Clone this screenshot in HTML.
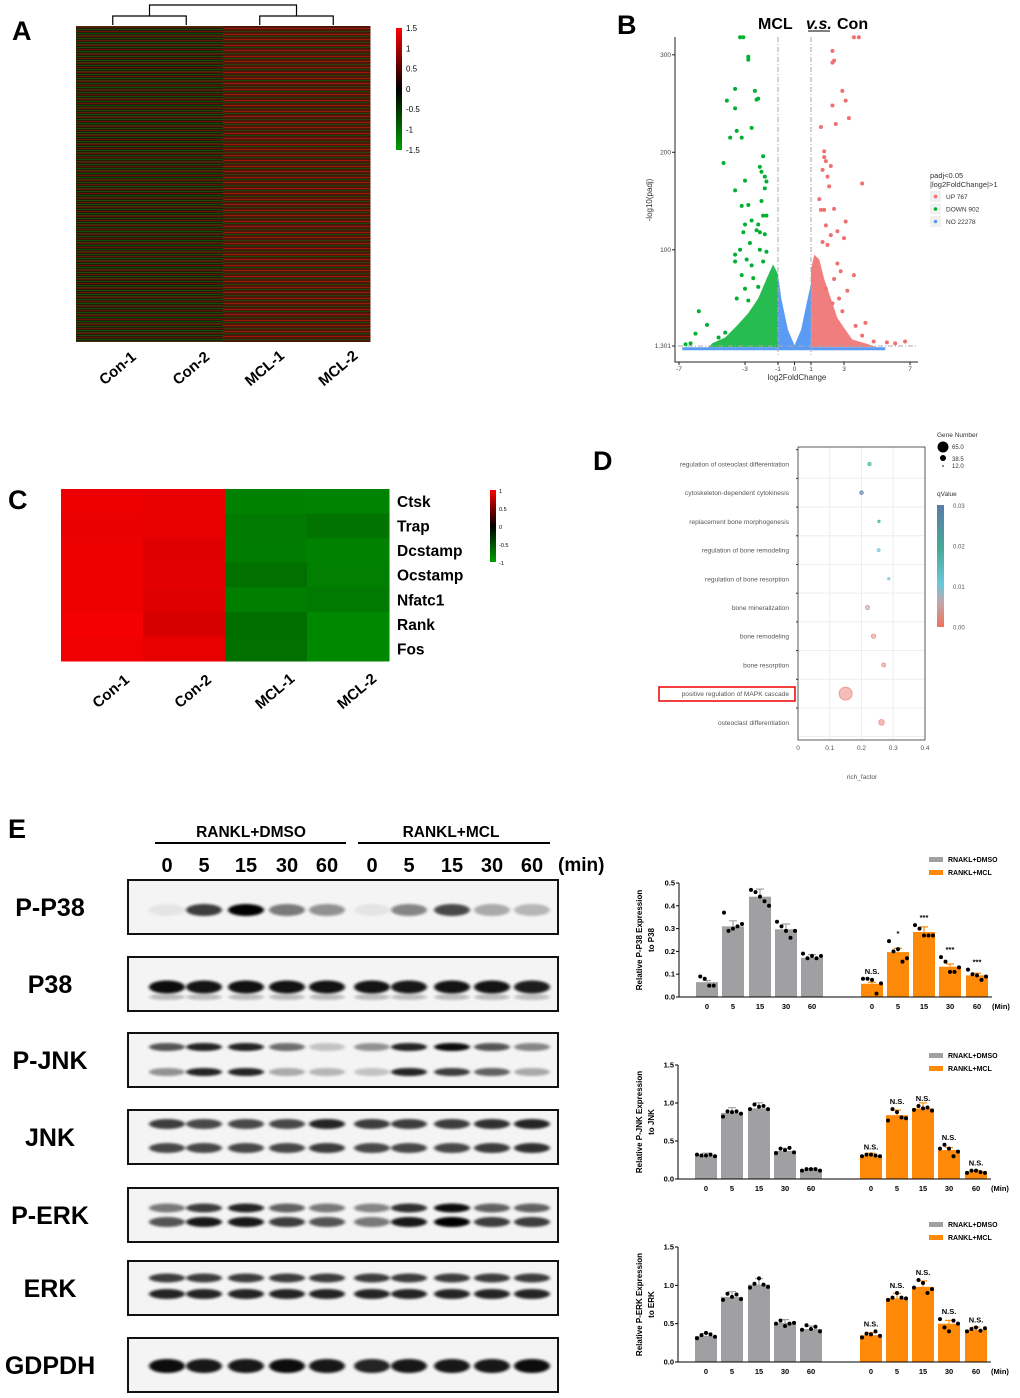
<!DOCTYPE html>
<html><head><meta charset="utf-8">
<style>
html,body{margin:0;padding:0;background:#fff;}
svg{display:block;font-family:"Liberation Sans",Arial,sans-serif;}
</style></head>
<body>
<svg id="fig" width="1020" height="1398" viewBox="0 0 1020 1398" xmlns="http://www.w3.org/2000/svg">
<defs>
<linearGradient id="gA" x1="0" y1="0" x2="0" y2="1"><stop offset="0" stop-color="#ff0000"/><stop offset="0.5" stop-color="#000"/><stop offset="1" stop-color="#00a000"/></linearGradient>
<linearGradient id="gQ" x1="0" y1="0" x2="0" y2="1"><stop offset="0" stop-color="#5b7aa8"/><stop offset="0.35" stop-color="#45a898"/><stop offset="0.65" stop-color="#6cc7d8"/><stop offset="0.8" stop-color="#c0a8a8"/><stop offset="1" stop-color="#f07060"/></linearGradient>
<filter id="blur" x="-20%" y="-100%" width="140%" height="300%"><feGaussianBlur stdDeviation="1.6 1.4"/></filter>
<pattern id="stripeA" width="8" height="9" patternUnits="userSpaceOnUse">
<rect width="8" height="9" fill="#2a200a"/><rect y="0" width="8" height="1" fill="#6a1a08"/><rect y="2" width="8" height="1" fill="#1a5a10"/><rect y="4" width="8" height="1" fill="#801808"/><rect y="6" width="8" height="1" fill="#106010"/><rect y="8" width="8" height="1" fill="#4a3a0a"/>
</pattern>
<pattern id="stripeB" width="8" height="11" patternUnits="userSpaceOnUse">
<rect width="8" height="11" fill="#4a1808"/><rect y="1" width="8" height="1" fill="#9a1808"/><rect y="3" width="8" height="1" fill="#1a4a0a"/><rect y="6" width="8" height="1" fill="#a01808"/><rect y="9" width="8" height="1" fill="#2a400a"/>
</pattern>
</defs>
<g id="root"></g>
</svg>
<script>
// ---------- DATA ----------
const heatALabels = ["Con-1","Con-2","MCL-1","MCL-2"];
const heatATicks = ["1.5","1","0.5","0","-0.5","-1","-1.5"];
const volcanoGreen = [[-3.1,318],[-3.3,318],[-2.8,298],[-2.8,295],[-3.6,265],[-2.4,263],[-4.1,253],[-2.3,254],[-2.2,255],[-3.6,245],[-2.6,225],[-3.5,222],[-3.9,215],[-3.2,215],[-4.3,189],[-1.9,196],[-2.1,185],[-2.0,180],[-3.0,171],[-1.8,175],[-1.7,170],[-3.6,161],[-1.8,163],[-2.8,146],[-3.2,145],[-2.0,150],[-1.9,135],[-2.6,130],[-2.2,126],[-3.0,126],[-1.7,135],[-2.3,120],[-3.1,118],[-2.1,118],[-1.8,116],[-2.7,107],[-3.3,100],[-3.6,95],[-2.1,100],[-1.7,98],[-2.9,90],[-3.6,88],[-2.6,84],[-1.9,88],[-3.2,74],[-2.5,71],[-3.0,60],[-2.2,62],[-3.5,50],[-2.8,48],[-5.8,37],[-5.3,23],[-6.0,14],[-4.2,15],[-4.6,10],[-6.3,4],[-6.6,3]];
const volcanoRed = [[3.6,318],[3.9,318],[2.3,304],[2.4,294],[2.3,292],[2.9,263],[3.1,253],[2.3,248],[3.3,235],[2.5,229],[1.6,226],[1.8,201],[1.9,191],[1.8,195],[2.2,186],[1.7,182],[2.0,175],[2.1,165],[4.1,168],[2.4,142],[1.5,152],[1.8,141],[1.6,141],[3.1,129],[2.6,119],[1.9,125],[2.2,115],[3.0,112],[2.0,105],[1.7,108],[2.6,86],[3.6,74],[2.8,78],[2.4,70],[3.2,58],[2.9,37],[3.7,22],[4.3,25],[4.1,12],[4.8,6],[5.6,5],[6.1,4],[6.7,6],[2.7,50],[1.9,60],[2.3,45]];
const volcanoBlueOutline = [[-6.8,0],[-1.0,0],[-1.0,75],[-0.8,50],[-0.4,18],[0,2],[0.4,18],[0.8,50],[1.0,66],[1.0,0],[5.5,0],[5.5,-3],[-6.8,-3]];
const volcanoGreenDense = [[-1.0,0],[-1.0,75],[-1.3,85],[-1.7,70],[-2.2,50],[-2.8,35],[-3.5,22],[-4.2,10],[-5.0,4],[-5.2,0]];
const volcanoRedDense = [[1.0,0],[1.0,80],[1.2,95],[1.5,90],[1.8,70],[2.2,50],[2.6,30],[3.0,20],[3.5,8],[4.5,3],[5.0,0]];
const xTicksB = [-7,-3,-1,0,1,3,7];
const yTicksB = [1.301,100,200,300];
const heatCGenes = ["Ctsk","Trap","Dcstamp","Ocstamp","Nfatc1","Rank","Fos"];
const heatCValues = [
 [0.95,0.92,-0.88,-0.90],
 [0.93,0.90,-0.80,-0.72],
 [0.94,0.86,-0.82,-0.88],
 [0.96,0.88,-0.70,-0.86],
 [0.95,0.86,-0.84,-0.80],
 [1.00,0.80,-0.68,-0.95],
 [0.97,0.90,-0.70,-0.96]];
const goTerms = ["regulation of osteoclast differentiation","cytoskeleton-dependent cytokinesis","replacement bone morphogenesis","regulation of bone remodeling","regulation of bone resorption","bone mineralization","bone remodeling","bone resorption","positive regulation of MAPK cascade","osteoclast differentiation"];
const goRich = [0.225,0.2,0.255,0.254,0.286,0.219,0.238,0.27,0.15,0.263];
const goQ = [0.014,0.027,0.013,0.011,0.010,0.004,0.002,0.001,0.001,0.001];
const goCount = [16,18,12,15,12,22,22,20,65,28];
const goXTicks = ["0","0.1","0.2","0.3","0.4"];
const lanes = ["0","5","15","30","60","0","5","15","30","60"];
const blotPP38 = [0.06,0.75,1.0,0.5,0.4,0.06,0.45,0.7,0.3,0.25];
const blotP38 = [0.95,0.92,0.93,0.92,0.92,0.92,0.9,0.92,0.92,0.88];
const blotPJNKup = [0.65,0.85,0.85,0.55,0.2,0.4,0.85,0.95,0.65,0.45];
const blotPJNKlo = [0.4,0.85,0.85,0.3,0.25,0.2,0.85,0.75,0.6,0.3];
const blotJNKup = [0.75,0.7,0.7,0.7,0.85,0.75,0.75,0.75,0.8,0.85];
const blotJNKlo = [0.7,0.7,0.7,0.7,0.75,0.7,0.7,0.7,0.75,0.8];
const blotPERKup = [0.5,0.75,0.85,0.6,0.5,0.45,0.8,0.95,0.6,0.6];
const blotPERKlo = [0.65,0.9,0.9,0.75,0.65,0.5,0.9,1.0,0.75,0.75];
const blotERKup = [0.75,0.75,0.75,0.75,0.75,0.75,0.75,0.75,0.75,0.75];
const blotERKlo = [0.85,0.85,0.85,0.85,0.85,0.85,0.85,0.85,0.85,0.85];
const blotGAPDH = [0.95,0.9,0.9,0.95,0.9,0.85,0.9,0.9,0.9,0.95];
const barTimes = ["0","5","15","30","60"];
const p38Dmso = [0.065,0.31,0.44,0.297,0.172];
const p38Mcl = [0.058,0.197,0.285,0.133,0.095];
const p38DmsoPts = [[0.09,0.08,0.05,0.05],[0.37,0.29,0.3,0.31,0.32],[0.47,0.46,0.44,0.42,0.40],[0.33,0.31,0.29,0.26,0.29],[0.19,0.17,0.18,0.17,0.18]];
const p38MclPts = [[0.08,0.08,0.075,0.015,0.06],[0.245,0.2,0.21,0.155,0.17],[0.315,0.3,0.27,0.27,0.27],[0.175,0.155,0.11,0.11,0.13],[0.12,0.1,0.095,0.075,0.09]];
const p38Sig = ["N.S.","*","***","***","***"];
const jnkDmso = [0.31,0.87,0.93,0.37,0.12];
const jnkMcl = [0.31,0.84,0.93,0.38,0.10];
const jnkDmsoPts = [[0.32,0.31,0.31,0.32,0.3],[0.82,0.89,0.88,0.89,0.86],[0.92,0.98,0.95,0.96,0.92],[0.34,0.4,0.38,0.41,0.35],[0.11,0.13,0.13,0.13,0.11]];
const jnkMclPts = [[0.3,0.32,0.32,0.31,0.3],[0.77,0.92,0.88,0.81,0.8],[0.91,0.96,0.93,0.94,0.9],[0.4,0.45,0.4,0.3,0.36],[0.08,0.11,0.11,0.09,0.08]];
const jnkSig = ["N.S.","N.S.","N.S.","N.S.","N.S."];
const erkDmso = [0.34,0.85,1.01,0.51,0.43];
const erkMcl = [0.35,0.83,0.98,0.50,0.42];
const erkDmsoPts = [[0.31,0.35,0.38,0.36,0.33],[0.81,0.89,0.85,0.88,0.82],[0.97,1.02,1.09,1.01,0.98],[0.5,0.54,0.47,0.5,0.51],[0.42,0.48,0.43,0.46,0.4]];
const erkMclPts = [[0.32,0.37,0.36,0.4,0.34],[0.81,0.84,0.9,0.84,0.83],[0.97,1.07,1.03,0.9,0.95],[0.56,0.45,0.4,0.54,0.5],[0.4,0.43,0.45,0.41,0.44]];
const erkSig = ["N.S.","N.S.","N.S.","N.S.","N.S."];
const bar1Ticks = [0,0.1,0.2,0.3,0.4,0.5];
const bar2Ticks = [0,0.5,1.0,1.5];

// ---------- helpers ----------
const NS="http://www.w3.org/2000/svg";
const root=document.getElementById('root');
function mk(tag,attrs,parent,text){const e=document.createElementNS(NS,tag);for(const k in attrs)e.setAttribute(k,attrs[k]);if(text!==undefined)e.textContent=text;(parent||root).appendChild(e);return e;}
function grp(name,parent){const g=mk('g',{},parent);return g;}
function txt(p,x,y,s,size,opt){opt=opt||{};const t=mk('text',Object.assign({x:x,y:y,'font-size':size,fill:opt.fill||'#000','text-anchor':opt.anchor||'start'},opt.weight?{'font-weight':opt.weight}:{},opt.transform?{transform:opt.transform}:{},opt.style?{style:opt.style}:{}),p,s);return t;}

// ---------- panel letters ----------
const letters=grp('panel-letters');
[["A",12,40],["B",617,34],["C",8,509],["D",593,470],["E",8,838]].forEach(l=>{const t=txt(letters,l[1],l[2],l[0],27,{weight:'bold'});});

// ---------- Panel A ----------
(function(){
 const g=grp('heatmap-a');
 const x0=76,y0=26,w=294,h=316,cw=w/4;
 const fills=['url(#stripeA)','url(#stripeA)','url(#stripeB)','url(#stripeB)'];
 for(let i=0;i<4;i++){const r=mk('rect',{x:x0+i*cw,y:y0,width:cw+0.5,height:h,fill:fills[i]},g);}
 mk('rect',{x:x0,y:y0,width:cw*2,height:h,fill:'#000','opacity':0.15},g);
 const d=grp('dendrogram-a',g);
 const c=i=>x0+cw*(i+0.5);
 mk('path',{d:`M${c(0)} 25V16H${c(1)}V25 M${c(2)} 25V16H${c(3)}V25 M${(c(0)+c(1))/2} 16V5H${(c(2)+c(3))/2}V16`,stroke:'#000','stroke-width':1.2,fill:'none'},d);
 const cb=grp('colorbar-a',g);
 mk('rect',{x:396,y:28,width:6,height:122,fill:'url(#gA)'},cb);
 heatATicks.forEach((t,i)=>{const e=txt(cb,406,31+i*20.3,t,8);});
 heatALabels.forEach((s,i)=>{const x=c(i)+8,y=372;const e=txt(g,x,y,s,15,{weight:'bold',anchor:'middle',transform:`rotate(-40 ${x} ${y})`});});
})();

// ---------- Panel B volcano ----------
(function(){
 const g=grp('volcano-plot');
 const X=v=>794.5+16.5*v, Y=v=>347.3-v*0.975;
 txt(g,758,29,'MCL',16,{weight:'bold'});
 txt(g,806,29,'v.s.',16,{weight:'bold',style:'font-style:italic'});
 txt(g,837,29,'Con',16,{weight:'bold'});
 mk('line',{x1:808,y1:31,x2:830,y2:31,stroke:'#000','stroke-width':1},g);
 const pts=a=>a.map(p=>X(p[0])+','+Y(p[1])).join(' ');
 mk('polygon',{points:pts(volcanoGreenDense),fill:'#00b030',opacity:0.85},g);
 mk('polygon',{points:pts(volcanoRedDense),fill:'#f07070',opacity:0.9},g);
 mk('polygon',{points:pts(volcanoBlueOutline),fill:'#5a9cf5'},g);
 volcanoGreen.forEach(p=>{const c=mk('circle',{cx:X(p[0]),cy:Y(p[1]),r:2,fill:'#00b030'},g);});
 volcanoRed.forEach(p=>{const c=mk('circle',{cx:X(p[0]),cy:Y(p[1]),r:2,fill:'#f07070'},g);});
 mk('line',{x1:X(-1),y1:37,x2:X(-1),y2:357,stroke:'#aaa','stroke-dasharray':'5 2 1 2'},g);
 mk('line',{x1:X(1),y1:37,x2:X(1),y2:357,stroke:'#aaa','stroke-dasharray':'5 2 1 2'},g);
 mk('line',{x1:678,y1:Y(1.301),x2:918,y2:Y(1.301),stroke:'#aaa','stroke-dasharray':'5 2 1 2'},g);
 mk('path',{d:'M675 37V362H918',stroke:'#222',fill:'none','stroke-width':1},g);
 xTicksB.forEach(v=>{mk('line',{x1:X(v),y1:362,x2:X(v),y2:365,stroke:'#222'},g);const t=txt(g,X(v),371,String(v),6.5,{anchor:'middle',fill:'#444'});});
 yTicksB.forEach(v=>{mk('line',{x1:672,y1:Y(v),x2:675,y2:Y(v),stroke:'#222'},g);const t=txt(g,671,Y(v)+2,String(v),6.5,{anchor:'end',fill:'#444'});});
 txt(g,797,380,'log2FoldChange',8,{anchor:'middle',fill:'#333'});
 txt(g,652,200,'-log10(padj)',8,{anchor:'middle',fill:'#333',transform:'rotate(-90 652 200)'});
 const lg=grp('volcano-legend',g);
 txt(lg,930,178,'padj<0.05',7.5,{fill:'#333'});txt(lg,930,187,'|log2FoldChange|>1',7.5,{fill:'#333'});
 [['#f07070','UP 767'],['#00b030','DOWN 902'],['#5a9cf5','NO 22278']].forEach((e,i)=>{mk('rect',{x:930,y:191+i*12.5,width:11,height:11,fill:'#f0f0f0'},lg);mk('circle',{cx:935.5,cy:196.5+i*12.5,r:1.8,fill:e[0]},lg);const t=txt(lg,946,199+i*12.5,e[1],6.5,{fill:'#333'});});
})();

// ---------- Panel C ----------
(function(){
 const g=grp('heatmap-c');
 const x0=61,y0=489,cw=82,rh=172/7;
 function col(v){if(v>=0){const r=Math.round(90+155*v);return `rgb(${r},0,0)`;}const gg=Math.round(50+90*(-v));return `rgb(0,${gg},0)`;}
 heatCValues.forEach((row,i)=>row.forEach((v,j)=>{const r=mk('rect',{x:x0+j*cw,y:y0+i*rh,width:cw+0.5,height:rh+0.5,fill:col(v)},g);}));
 heatCGenes.forEach((s,i)=>{const t=txt(g,397,y0+i*rh+18,s,15.5,{weight:'bold'});});
 const cb=grp('colorbar-c',g);
 mk('rect',{x:490,y:490,width:6,height:72,fill:'url(#gA)'},cb);
 ["1","0.5","0","-0.5","-1"].forEach((t,i)=>txt(cb,499,493+i*18,t,5.5));
 heatALabels.forEach((s,i)=>{const x=x0+cw*(i+0.5)+12,y=695;const e=txt(g,x,y,s,15,{weight:'bold',anchor:'middle',transform:`rotate(-40 ${x} ${y})`});});
})();

// ---------- Panel D ----------
(function(){
 const g=grp('go-bubble-chart');
 const X=v=>798+v*317.5, Y=i=>464+i*28.7;
 [0.1,0.2,0.3].forEach(v=>mk('line',{x1:X(v),y1:447,x2:X(v),y2:740,stroke:'#eee'},g));
 goTerms.forEach((s,i)=>{mk('line',{x1:798,y1:Y(i)+14.3,x2:925,y2:Y(i)+14.3,stroke:'#eee'},g);mk('line',{x1:796,y1:Y(i)-14.3,x2:798,y2:Y(i)-14.3,stroke:'#333'},g);const t=txt(g,789,Y(i)+2.5,s,6.6,{anchor:'end',fill:'#555'});});
 mk('rect',{x:798,y:447,width:127,height:293,fill:'none',stroke:'#333','stroke-width':0.8},g);
 mk('rect',{x:659,y:687,width:136,height:14,fill:'none',stroke:'#e00','stroke-width':1.5},g);
 function qcol(q){const t=q/0.03;if(t<0.1)return '#f09088';if(t<0.2)return '#c8a8a8';if(t<0.4)return '#70c8d8';if(t<0.75)return '#48b0a0';return '#6080b0';}
 goRich.forEach((v,i)=>{const r=Math.max(0.8,goCount[i]/65*6.5);const c=mk('circle',{cx:X(v),cy:Y(i),r:r,fill:qcol(goQ[i]),'fill-opacity':0.6,stroke:qcol(goQ[i]),'stroke-width':0.8},g);});
 goXTicks.forEach((s,i)=>{const t=txt(g,X(i*0.1),750,s,6.5,{anchor:'middle',fill:'#555'});});
 txt(g,862,779,'rich_factor',6.5,{anchor:'middle',fill:'#555'});
 const lg=grp('go-legend',g);
 txt(lg,937,437,'Gene Number',6.5,{fill:'#333'});
 mk('circle',{cx:943,cy:447,r:5.5,fill:'#000'},lg);txt(lg,952,449,'65.0',6,{fill:'#333'});
 mk('circle',{cx:943,cy:458,r:3,fill:'#000'},lg);txt(lg,952,461,'38.5',6,{fill:'#333'});
 mk('circle',{cx:943,cy:466,r:0.8,fill:'#000'},lg);txt(lg,952,468,'12.0',6,{fill:'#333'});
 txt(lg,937,496,'qValue',6.5,{fill:'#333'});
 mk('rect',{x:937,y:505,width:7,height:122,fill:'url(#gQ)'},lg);
 ["0.03","0.02","0.01","0.00"].forEach((s,i)=>txt(lg,953,508+i*40.5,s,6,{fill:'#555'}));
})();

// ---------- Panel E blots ----------
(function(){
 const g=grp('western-blots');
 const laneX=[167,204,246,287,327,372,409,452,492,532];
 txt(g,251,837,'RANKL+DMSO',15.5,{anchor:'middle',weight:'bold'});
 txt(g,451,837,'RANKL+MCL',15.5,{anchor:'middle',weight:'bold'});
 mk('line',{x1:155,y1:843,x2:346,y2:843,stroke:'#000','stroke-width':2},g);
 mk('line',{x1:358,y1:843,x2:550,y2:843,stroke:'#000','stroke-width':2},g);
 lanes.forEach((s,i)=>{const t=txt(g,laneX[i],872,s,20,{anchor:'middle',weight:'bold'});});
 txt(g,558,871,'(min)',19,{weight:'bold'});
 const rows=[
  ['P-P38',880,[[blotPP38,910,6]]],
  ['P38',957,[[blotP38,987,6.5],[blotP38.map(v=>v*0.25),997,3]]],
  ['P-JNK',1033,[[blotPJNKup,1047,4],[blotPJNKlo,1072,4]]],
  ['JNK',1110,[[blotJNKup,1124,5],[blotJNKlo,1148,5]]],
  ['P-ERK',1188,[[blotPERKup,1208,4.5],[blotPERKlo,1222,5]]],
  ['ERK',1261,[[blotERKup,1278,4.5],[blotERKlo,1294,5]]],
  ['GDPDH',1338,[[blotGAPDH,1366,7]]]];
 rows.forEach(r=>{
  const bg=grp('blot-'+r[0].toLowerCase(),g);
  mk('rect',{x:128,y:r[1],width:430,height:54,fill:'#f4f4f4',stroke:'#111','stroke-width':2},bg);
  r[2].forEach(b=>b[0].forEach((v,i)=>{const e=mk('ellipse',{cx:laneX[i],cy:b[1],rx:18,ry:b[2],fill:'#000',opacity:Math.min(1,v),filter:'url(#blur)'},bg);}));
  const t=txt(g,50,r[1]+36,r[0],25,{anchor:'middle',weight:'bold'});
 });
})();

// ---------- Bar charts ----------
function barChart(name,axX,y0,yTop,maxV,ticks,dm,mc,dmPts,mcPts,sig,ylabel1,ylabel2,legY,fmt){
 const g=grp(name);
 const Y=v=>y0-(y0-yTop)*v/maxV;
 const gx=[axX+28,axX+54,axX+81,axX+107,axX+133], ox=[axX+193,axX+219,axX+245,axX+271,axX+298];
 const bw=22;
 function series(vals,pts,xs,color,errc,tag){vals.forEach((v,i)=>{
  const b=mk('rect',{x:xs[i]-bw/2,y:Y(v),width:bw,height:y0-Y(v),fill:color},g);
  mk('path',{d:`M${xs[i]} ${Y(v)}V${Y(v*1.07+maxV*0.005)}M${xs[i]-4} ${Y(v*1.07+maxV*0.005)}H${xs[i]+4}`,stroke:errc,'stroke-width':1.2,fill:'none'},g);
  const p=pts[i];p.forEach((pv,k)=>{const dx=(k-(p.length-1)/2)*4.5;const c=mk('circle',{cx:xs[i]+dx,cy:Y(pv),r:2,fill:'#000'},g);});
 });}
 series(dm,dmPts,gx,'#a0a0a2','#a0a0a2','dmso');
 series(mc,mcPts,ox,'#ff8a0a','#ff8a0a','mcl');
 sig.forEach((s,i)=>{const top=Math.max(...mcPts[i]);const t=txt(g,ox[i],Y(top)-5,s,7.5,{anchor:'middle',weight:'bold'});});
 mk('path',{d:`M${axX} ${yTop}V${y0}H${axX+313}`,stroke:'#000','stroke-width':1,fill:'none'},g);
 ticks.forEach(v=>{mk('line',{x1:axX-3,y1:Y(v),x2:axX,y2:Y(v),stroke:'#000'},g);const t=txt(g,axX-4,Y(v)+2.5,fmt(v),7.5,{anchor:'end',weight:'bold'});});
 [...gx,...ox].forEach((x,i)=>{const t=txt(g,x,y0+12,barTimes[i%5],7.5,{anchor:'middle',weight:'bold'});});
 txt(g,axX+313,y0+12,'(Min)',7.5,{weight:'bold'});
 const my=(y0+yTop)/2;
 txt(g,642,my,ylabel1,8,{anchor:'middle',weight:'bold',transform:`rotate(-90 642 ${my})`});
 txt(g,654,my,ylabel2,8,{anchor:'middle',weight:'bold',transform:`rotate(-90 654 ${my})`});
 const lg=grp(name+'-legend',g);
 mk('rect',{x:929,y:legY-3,width:14,height:5,fill:'#a0a0a2'},lg);txt(lg,948,legY+2,'RNAKL+DMSO',7,{weight:'bold'});
 mk('rect',{x:929,y:legY+10,width:14,height:5,fill:'#ff8a0a'},lg);txt(lg,948,legY+15,'RANKL+MCL',7,{weight:'bold'});
}
barChart('bar-chart-p38',679,997,883,0.5,bar1Ticks,p38Dmso,p38Mcl,p38DmsoPts,p38MclPts,p38Sig,'Relative P-P38 Expression','to P38',860,v=>v.toFixed(1));
barChart('bar-chart-jnk',678,1179,1065,1.5,bar2Ticks,jnkDmso,jnkMcl,jnkDmsoPts,jnkMclPts,jnkSig,'Relative P-JNK Expression','to JNK',1056,v=>v.toFixed(1));
barChart('bar-chart-erk',678,1362,1247,1.5,bar2Ticks,erkDmso,erkMcl,erkDmsoPts,erkMclPts,erkSig,'Relative P-ERK Expression','to ERK',1225,v=>v.toFixed(1));
</script>
</body></html>
